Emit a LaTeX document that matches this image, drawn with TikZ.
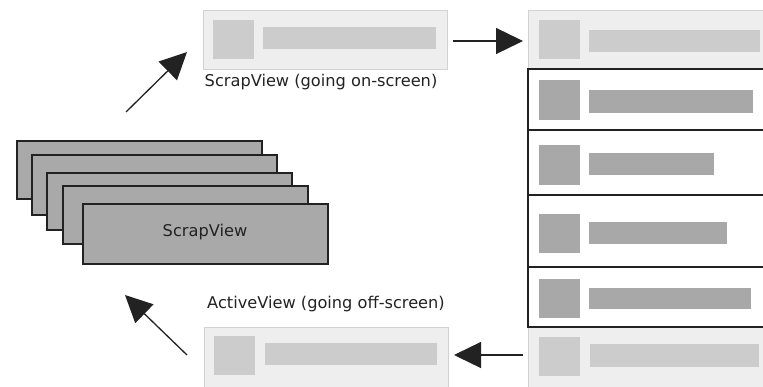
\documentclass[tikz,border=0pt]{standalone}
\usepackage{fontspec}
\setmainfont{DejaVu Sans}
\usetikzlibrary{arrows.meta}
\definecolor{paleFill}{HTML}{EEEEEE}
\definecolor{paleLine}{HTML}{D2D2D2}
\definecolor{paleItem}{HTML}{CCCCCC}
\definecolor{darkItem}{HTML}{A8A8A8}
\definecolor{cardFill}{HTML}{A9A9A9}
\definecolor{inkCol}{HTML}{222222}
\begin{document}
\begin{tikzpicture}[x=1pt,y=-1pt,
  box/.style={anchor=north west, inner sep=0pt, outer sep=0pt},
  card/.style={box, draw=inkCol, fill=cardFill, line width=1.2pt, minimum width=245pt},
  pale/.style={box, draw=paleLine, fill=paleFill, line width=0.8pt},
  row/.style={box, draw=inkCol, fill=white, line width=1.1pt, minimum width=270pt},
  paleItm/.style={box, fill=paleItem},
  darkItm/.style={box, fill=darkItem},
  lbl/.style={font=\fontsize{16.2}{19}\selectfont, text=inkCol, inner sep=0pt},
  flow/.style={draw=inkCol, line width=1.3pt, -{Triangle[length=27pt,width=26pt]}}
]
\useasboundingbox (0,0) rectangle (763,386);

% stacked cards
\node[card, minimum height=58pt] (c1) at (17,141) {};
\node[card, minimum height=60pt] (c2) at (32,155) {};
\node[card, minimum height=57pt] (c3) at (47,173) {};
\node[card, minimum height=58pt] (c4) at (63,186) {};
\node[card, minimum height=60pt] (c5) at (83,204) {};
\node[lbl] (c5t) at (205,232) {ScrapView};

% top view going on-screen
\node[pale, minimum width=244pt, minimum height=59pt] (tv) at (203,10) {};
\node[paleItm, minimum width=41pt, minimum height=39pt] (tvs) at (213,20) {};
\node[paleItm, minimum width=173pt, minimum height=22pt] (tvb) at (263,27) {};
\node[lbl] (tvl) at (321,82) {ScrapView (going on-screen)};

% bottom view going off-screen
\node[pale, minimum width=244pt, minimum height=60pt] (bv) at (204,327) {};
\node[paleItm, minimum width=41pt, minimum height=39pt] (bvs) at (214,336) {};
\node[paleItm, minimum width=172pt, minimum height=22pt] (bvb) at (265,343) {};
\node[lbl] (bvl) at (326,304) {ActiveView (going off-screen)};

% list on the right
\node[pale, minimum width=270pt, minimum height=59pt] (r1) at (528,10) {};
\node[paleItm, minimum width=41pt, minimum height=39pt] (r1s) at (539,20) {};
\node[paleItm, minimum width=171pt, minimum height=22pt] (r1b) at (589,30) {};

\node[row, minimum height=61pt] (r2) at (528,69) {};
\node[darkItm, minimum width=41pt, minimum height=40pt] (r2s) at (539,80) {};
\node[darkItm, minimum width=164pt, minimum height=23pt] (r2b) at (589,90) {};

\node[row, minimum height=65pt] (r3) at (528,130) {};
\node[darkItm, minimum width=41pt, minimum height=40pt] (r3s) at (539,145) {};
\node[darkItm, minimum width=125pt, minimum height=22pt] (r3b) at (589,153) {};

\node[row, minimum height=72pt] (r4) at (528,195) {};
\node[darkItm, minimum width=41pt, minimum height=39pt] (r4s) at (539,214) {};
\node[darkItm, minimum width=138pt, minimum height=22pt] (r4b) at (589,222) {};

\node[row, minimum height=60pt] (r5) at (528,267) {};
\node[darkItm, minimum width=41pt, minimum height=39pt] (r5s) at (539,279) {};
\node[darkItm, minimum width=162pt, minimum height=21pt] (r5b) at (589,288) {};

\node[pale, minimum width=270pt, minimum height=60pt] (r6) at (528,327) {};
\node[paleItm, minimum width=41pt, minimum height=39pt] (r6s) at (539,337) {};
\node[paleItm, minimum width=169pt, minimum height=23pt] (r6b) at (590,344) {};
\draw[inkCol, line width=1.1pt] (r6.north west) -- (r6.north east);

% connectors
\coordinate (a1s) at (126,112);
\coordinate (a1e) at (187,52);
\coordinate (a2s) at (453,41);
\coordinate (a2e) at (523,41);
\coordinate (a3s) at (523,355);
\coordinate (a3e) at (454,355);
\coordinate (a4s) at (187,355);
\coordinate (a4e) at (125,295);
\draw[flow] (a1s) -- (a1e);
\draw[flow] (a2s) -- (a2e);
\draw[flow] (a3s) -- (a3e);
\draw[flow] (a4s) -- (a4e);
\end{tikzpicture}
\end{document}
